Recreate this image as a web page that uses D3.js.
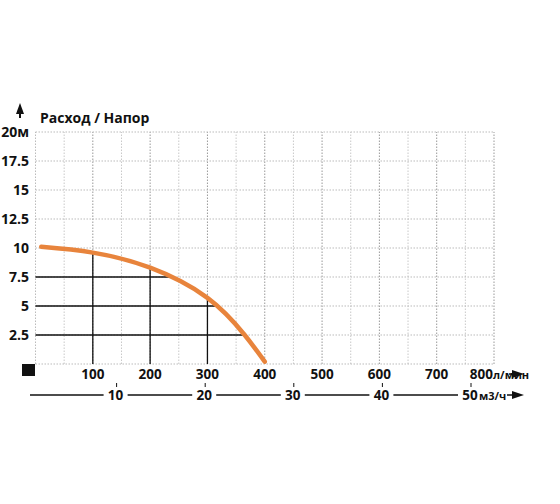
<!DOCTYPE html><html><head><meta charset="utf-8"><script src="https://cdn.jsdelivr.net/npm/d3@7"></script>
<style>body{margin:0;background:#fff}text{font-family:"Open Sans",sans-serif;font-weight:700;fill:#111}</style></head><body><svg width="560" height="504"></svg><script>
const flowTicks=[100,200,300,400,500,600,700,800];
const headTicks=[2.5,5,7.5,10,12.5,15,17.5,20];
const headLabels=["2.5","5","7.5","10","12.5","15","17.5","20м"];
const m3Ticks=[10,20,30,40,50];
const curveFlow=[10,100,200,300,365,400];
const curveHead=[10.1,9.6,8.3,5.7,2.5,0.2];
const refH=[7.5,5,2.5], refHx=[235,318,365];
const refV=[100,200,300], refVy=[9.6,8.3,5.7];
const svg=d3.select("svg");
const x=d3.scaleLinear([0,800],[35.5,494]);
const y=d3.scaleLinear([0,20],[364,132]);
const x2=d3.scaleLinear([0,50],[27,470]);
const g=svg.append("g");
d3.range(50,801,50).forEach(v=>g.append("line").attr("x1",x(v)).attr("x2",x(v)).attr("y1",y(0)).attr("y2",y(20)).attr("stroke",v%100?"#c8c8c8":"#999").attr("stroke-dasharray","1.5,1.5"));
headTicks.forEach(v=>g.append("line").attr("x1",x(0)).attr("x2",x(800)).attr("y1",y(v)).attr("y2",y(v)).attr("stroke","#bbb").attr("stroke-dasharray","1.5,1.5"));
g.append("line").attr("x1",x(0)).attr("x2",x(800)).attr("y1",y(0)).attr("y2",y(0)).attr("stroke","#bbb").attr("stroke-dasharray","1.5,1.5");
g.append("line").attr("x1",x(0)).attr("x2",x(0)).attr("y1",y(0)).attr("y2",y(20)).attr("stroke","#bbb").attr("stroke-dasharray","1.5,1.5");
refH.forEach((v,i)=>g.append("line").attr("x1",x(0)).attr("x2",x(refHx[i])).attr("y1",y(v)).attr("y2",y(v)).attr("stroke","#111").attr("stroke-width",1.3));
refV.forEach((v,i)=>g.append("line").attr("x1",x(v)).attr("x2",x(v)).attr("y1",y(0)).attr("y2",y(refVy[i])).attr("stroke","#111").attr("stroke-width",1.3));
g.append("path").datum(curveFlow.map((f,i)=>[f,curveHead[i]])).attr("d",d3.line().x(d=>x(d[0])).y(d=>y(d[1])).curve(d3.curveNatural)).attr("fill","none").attr("stroke","#e8843c").attr("stroke-width",4.5).attr("stroke-linecap","round");
headTicks.forEach((v,i)=>svg.append("text").attr("x",29).attr("y",y(v)+5).attr("text-anchor","end").attr("font-size",14).text(headLabels[i]));
svg.append("text").attr("x",40).attr("y",123).attr("font-size",14).text("Расход / Напор");
svg.append("path").attr("d","M20,103 L16,114 L24,114 Z").attr("fill","#111");
svg.append("line").attr("x1",20).attr("x2",20).attr("y1",110).attr("y2",118).attr("stroke","#111").attr("stroke-width",2);
svg.append("rect").attr("x",22).attr("y",364).attr("width",13).attr("height",12).attr("fill","#111");
flowTicks.forEach(v=>svg.append("text").attr("x",v==800?x(v)-1:x(v)).attr("y",379).attr("text-anchor",v==800?"end":"middle").attr("font-size",13.5).text(v));
svg.append("text").attr("x",493).attr("y",379).attr("font-size",11).text("л/мин");
svg.append("path").attr("d","M524,374 L512,370 L512,378 Z").attr("fill","#111");
svg.append("line").attr("x1",509).attr("x2",514).attr("y1",374).attr("y2",374).attr("stroke","#111").attr("stroke-width",1.5);
m3Ticks.forEach((v,i)=>{
 const a=i==0?30:x2(m3Ticks[i-1])+12, b=x2(v)-12;
 svg.append("line").attr("x1",a).attr("x2",b).attr("y1",395).attr("y2",395).attr("stroke","#111").attr("stroke-width",1.3);
 svg.append("text").attr("x",x2(v)).attr("y",400).attr("text-anchor","middle").attr("font-size",13.5).text(v);
 svg.append("line").attr("x1",x2(v)+1).attr("x2",x2(v)+1).attr("y1",383).attr("y2",387).attr("stroke","#111");
});
svg.append("text").attr("x",479).attr("y",400).attr("font-size",11).text("м3/ч");
svg.append("path").attr("d","M524,395 L512,391 L512,399 Z").attr("fill","#111");
svg.append("line").attr("x1",507).attr("x2",514).attr("y1",395).attr("y2",395).attr("stroke","#111").attr("stroke-width",1.5);
</script></body></html>
